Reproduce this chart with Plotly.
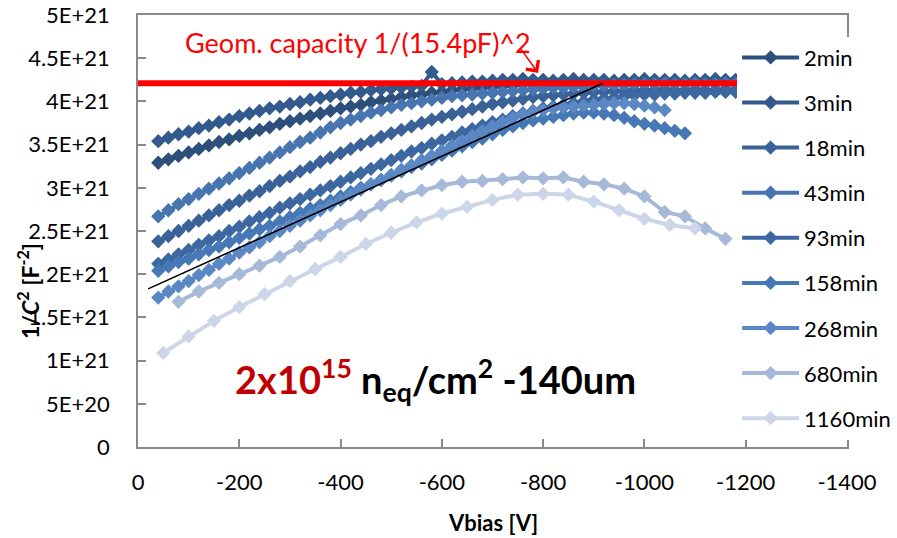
import numpy as np
import plotly.graph_objects as go

# ---------------- data (1/C^2 in units of 1e21 F^-2) ----------------
V_DENSE = list(range(-40, -1181, -20))   # voltage scan, 20 V steps
V_158 = list(range(-40, -1081, -20))
V_268 = list(range(-40, -1041, -20))
V_680 = list(range(-80, -1161, -40))
V_1160 = list(range(-50, -1101, -50))

c_2min = [3.29, 3.33, 3.37, 3.41, 3.45, 3.49, 3.53, 3.56, 3.60, 3.63,
          3.67, 3.70, 3.74, 3.77, 3.80, 3.83, 3.86, 3.89, 3.92, 3.94,
          3.96, 3.99, 4.01, 4.03, 4.05, 4.07, 4.08, 4.10, 4.11, 4.13,
          4.14, 4.15, 4.16, 4.17, 4.18, 4.19, 4.20, 4.20, 4.21,
          4.21, 4.22, 4.21, 4.22, 4.22, 4.21, 4.22, 4.22, 4.21, 4.22,
          4.22, 4.21, 4.22, 4.22, 4.21, 4.22, 4.22, 4.21, 4.22]
c_3min = [3.54, 3.58, 3.62, 3.65, 3.69, 3.72, 3.76, 3.79, 3.83, 3.86,
          3.89, 3.92, 3.94, 3.97, 3.99, 4.02, 4.04, 4.06, 4.08, 4.10,
          4.11, 4.13, 4.14, 4.15, 4.16, 4.17, 4.18, 4.34, 4.20, 4.21,
          4.22, 4.23, 4.23, 4.24,
          4.25, 4.25, 4.26, 4.25, 4.25, 4.24, 4.25, 4.26, 4.25, 4.25,
          4.25, 4.24, 4.25, 4.25, 4.26, 4.25, 4.25, 4.25, 4.24, 4.25,
          4.25, 4.26, 4.25, 4.25]
c_18min = [2.38, 2.44, 2.50, 2.56, 2.62, 2.68, 2.74, 2.80, 2.85, 2.91,
           2.96, 3.02, 3.08, 3.13, 3.19, 3.24, 3.30, 3.35, 3.40, 3.45,
           3.50, 3.54, 3.59, 3.63, 3.67, 3.71, 3.75, 3.79, 3.82, 3.85,
           3.88, 3.91, 3.94, 3.97, 3.99, 4.01, 4.03, 4.05, 4.06, 4.07,
           4.08, 4.09, 4.10, 4.11, 4.11, 4.12, 4.12, 4.13,
           4.13, 4.13, 4.14, 4.13, 4.13, 4.14, 4.13, 4.13, 4.14, 4.13]
c_43min = [2.67, 2.74, 2.81, 2.87, 2.93, 2.99, 3.05, 3.11, 3.17, 3.23,
           3.29, 3.35, 3.41, 3.47, 3.53, 3.58, 3.64, 3.70, 3.75, 3.79,
           3.83, 3.87, 3.90, 3.93, 3.96, 3.98, 4.00, 4.02, 4.04, 4.06,
           4.07, 4.08, 4.09, 4.10, 4.11, 4.12, 4.13, 4.14, 4.15, 4.16,
           4.16, 4.17, 4.17, 4.18, 4.18, 4.19, 4.19, 4.20,
           4.20, 4.20, 4.21, 4.20, 4.20, 4.21, 4.20, 4.20, 4.21, 4.20]
c_93min = [2.12, 2.17, 2.23, 2.28, 2.34, 2.39, 2.44, 2.50, 2.55, 2.61,
           2.66, 2.71, 2.77, 2.82, 2.87, 2.92, 2.97, 3.02, 3.07, 3.12,
           3.17, 3.22, 3.27, 3.32, 3.37, 3.42, 3.46, 3.51, 3.55, 3.59,
           3.64, 3.68, 3.72, 3.76, 3.79, 3.83, 3.86, 3.89, 3.92, 3.94,
           3.96, 3.98, 4.00, 4.02, 4.03, 4.04, 4.06, 4.07, 4.08, 4.08,
           4.09, 4.09, 4.10, 4.10, 4.10, 4.11, 4.11, 4.11]
c_158min = [2.04, 2.09, 2.14, 2.18, 2.23, 2.28, 2.32, 2.37, 2.42, 2.47,
            2.52, 2.56, 2.61, 2.66, 2.71, 2.76, 2.80, 2.85, 2.90, 2.95,
            3.00, 3.04, 3.09, 3.14, 3.19, 3.24, 3.28, 3.33, 3.38, 3.43,
            3.48, 3.53, 3.57, 3.62, 3.67, 3.71, 3.75, 3.78, 3.80, 3.82,
            3.84, 3.86, 3.87, 3.87, 3.86, 3.84, 3.81, 3.77, 3.74, 3.72,
            3.69, 3.66, 3.63]
c_268min = [1.73, 1.80, 1.86, 1.92, 1.99, 2.05, 2.12, 2.18, 2.25, 2.31,
            2.37, 2.44, 2.50, 2.56, 2.62, 2.68, 2.74, 2.80, 2.86, 2.92,
            2.98, 3.04, 3.09, 3.15, 3.21, 3.26, 3.32, 3.37, 3.43, 3.49,
            3.54, 3.60, 3.66, 3.71, 3.76, 3.81, 3.85, 3.88, 3.90, 3.92,
            3.93, 3.94, 3.95, 3.96, 3.97, 3.98, 3.98, 3.97, 3.95, 3.93,
            3.90]
c_680min = [1.68, 1.80, 1.90, 2.00, 2.10, 2.20, 2.32, 2.45, 2.58, 2.68,
            2.80, 2.90, 2.97, 3.03, 3.07, 3.08, 3.10, 3.12, 3.11, 3.12,
            3.07, 3.04, 2.99, 2.90, 2.72, 2.67, 2.53, 2.41]
c_1160min = [1.09, 1.28, 1.46, 1.62, 1.77, 1.92, 2.06, 2.20, 2.35, 2.48,
             2.60, 2.70, 2.78, 2.86, 2.92, 2.93, 2.92, 2.84, 2.74, 2.64,
             2.57, 2.53]

SERIES_NAMES = ["2min", "3min", "18min", "43min", "93min", "158min", "268min", "680min", "1160min"]
SERIES_X = [V_DENSE, V_DENSE, V_DENSE, V_DENSE, V_DENSE, V_158, V_268, V_680, V_1160]
SERIES_Y = [c_2min, c_3min, c_18min, c_43min, c_93min, c_158min, c_268min, c_680min, c_1160min]
COLORS = ["#2D4F7C", "#335A8C", "#3A6299", "#4675B0", "#3C67A0", "#4678B6", "#5B88C5", "#A7B9D9", "#CCD6E8"]

GEOM_X = [0, -1400]
GEOM_LEVEL = 4.21          # 1/(15.4 pF)^2
FIT_X = [-20, -918]
FIT_Y = [1.83, 4.21]

X_TICKS = [0, -200, -400, -600, -800, -1000, -1200, -1400]
Y_TICKS = [0, 0.5, 1, 1.5, 2, 2.5, 3, 3.5, 4, 4.5, 5]
Y_LABELS = ["0", "5E+20", "1E+21", "1.5E+21", "2E+21", "2.5E+21", "3E+21",
            "3.5E+21", "4E+21", "4.5E+21", "5E+21"]

E21 = 1e21
FONT = "Lato"
AX = "#898989"

fig = go.Figure()
for name, xs, ys, col in zip(SERIES_NAMES, SERIES_X, SERIES_Y, COLORS):
    assert len(xs) == len(ys), name
    fig.add_trace(go.Scatter(
        x=xs, y=np.array(ys) * E21, mode="lines+markers", name=name,
        legendgroup=name,
        line=dict(color=col, width=4),
        marker=dict(symbol="diamond", size=11, color=col, line=dict(width=0)),
    ))

fig.add_trace(go.Scatter(x=GEOM_X, y=[GEOM_LEVEL * E21] * 2, mode="lines",
                         line=dict(color="#FF0000", width=6), showlegend=False, hoverinfo="skip"))
fig.add_trace(go.Scatter(x=FIT_X, y=np.array(FIT_Y) * E21, mode="lines",
                         line=dict(color="black", width=1.6), showlegend=False, hoverinfo="skip"))

fig.update_layout(
    width=897, height=538,
    margin=dict(l=138, r=50, t=15, b=91, autoexpand=False),
    paper_bgcolor="white", plot_bgcolor="white",
    font=dict(family=FONT, size=22, color="black"),
    showlegend=True,
    legend=dict(x=0.845, y=0.95, xanchor="left", yanchor="top", bgcolor="white",
                font=dict(family=FONT, size=22, color="black"),
                traceorder="grouped", tracegroupgap=13.5, itemwidth=57,
                borderwidth=0),
    xaxis=dict(range=[0, -1400], tickmode="array", tickvals=X_TICKS,
               ticktext=[str(v) for v in X_TICKS],
               ticks="inside", ticklen=8, tickcolor=AX, tickwidth=1.5,
               showline=True, linecolor=AX, linewidth=1.5, mirror=True,
               showgrid=False, zeroline=False, ticklabelstandoff=15,
               tickfont=dict(family=FONT, size=22, color="black")),
    yaxis=dict(range=[0, 5 * E21], tickmode="array", tickvals=[v * E21 for v in Y_TICKS],
               ticktext=Y_LABELS,
               ticks="inside", ticklen=8, tickcolor=AX, tickwidth=1.5,
               showline=True, linecolor=AX, linewidth=1.5, mirror=True,
               showgrid=False, zeroline=False, ticklabelstandoff=22,
               tickfont=dict(family=FONT, size=22, color="black")),
)

H = 432.0
W = 709.0
def py(pix):
    return (447 - pix) / H
def px(pix):
    return (pix - 138) / W

fig.add_annotation(text="<b>Vbias [V]</b>", xref="paper", yref="paper",
                   x=0.5, y=py(522), showarrow=False, xanchor="center", yanchor="middle",
                   font=dict(family=FONT, size=22, color="black"))
fig.add_annotation(text="<b>1/<i>C</i><sup>2</sup> [F<sup>-2</sup>]</b>", xref="paper", yref="paper",
                   x=px(28), y=py(291), showarrow=False, textangle=-90,
                   xanchor="center", yanchor="middle",
                   font=dict(family=FONT, size=23, color="black"))
fig.add_annotation(text="Geom. capacity 1/(15.4pF)^2", xref="paper", yref="paper",
                   x=px(358), y=py(42), showarrow=False, xanchor="center", yanchor="middle",
                   font=dict(family=FONT, size=27, color="#FF0000"))
fig.add_annotation(text="", x=-790, y=4.33 * E21, xref="x", yref="y",
                   showarrow=True, ax=-18, ay=-25, arrowhead=4, arrowsize=2,
                   arrowwidth=1.5, arrowcolor="#FF0000")
fig.add_annotation(
    text="<b><span style='color:#C00000'>2x10<sup>15</sup></span> n<sub>eq</sub>/cm<sup>2</sup> -140um</b>",
    xref="paper", yref="paper", x=px(435), y=py(380), showarrow=False,
    xanchor="center", yanchor="middle",
    font=dict(family=FONT, size=38, color="black"))

fig.write_html("out.html")
